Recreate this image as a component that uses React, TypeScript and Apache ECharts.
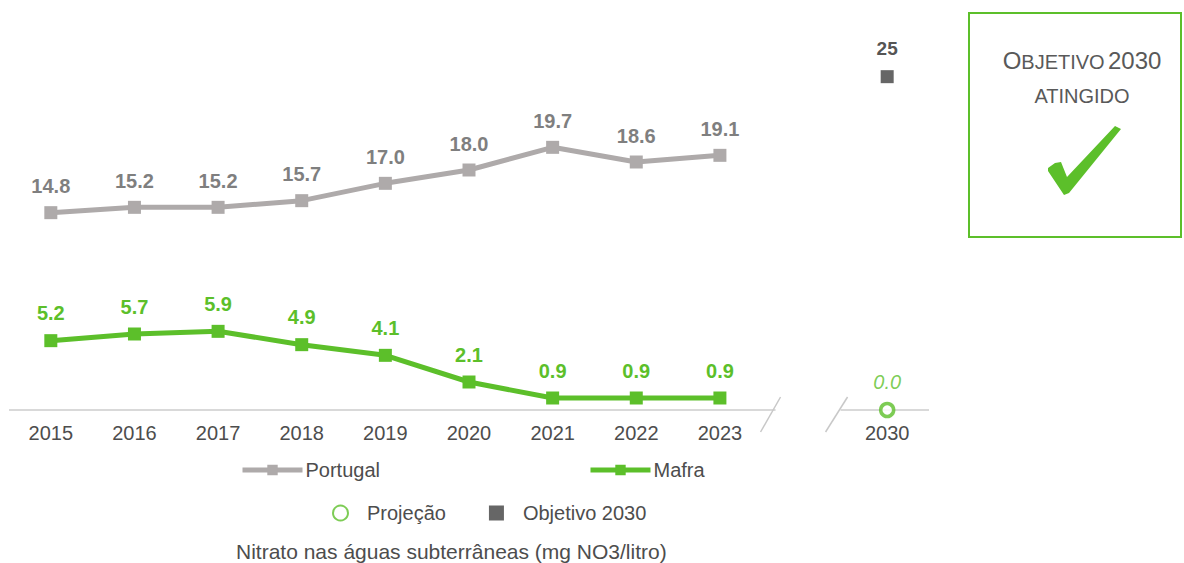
import React, { useEffect, useRef } from "react";
import * as echarts from "echarts";

const categories = ["2015", "2016", "2017", "2018", "2019", "2020", "2021", "2022", "2023", "", "2030"];
const portugal = [14.8, 15.2, 15.2, 15.7, 17.0, 18.0, 19.7, 18.6, 19.1, null, null];
const mafra = [5.2, 5.7, 5.9, 4.9, 4.1, 2.1, 0.9, 0.9, 0.9, null, null];
const projectionYear = "2030";
const projectionValue = 0.0;
const targetYear = "2030";
const targetValue = 25;

const GREEN = "#5cbf2a";
const GRAY_LINE = "#aeaaaa";
const GRAY_LABEL = "#7f7f7f";
const TEXT = "#4d4d4d";
const FONT = "'Liberation Sans', Arial, sans-serif";

export default function App() {
  const ref = useRef<HTMLDivElement>(null);
  useEffect(() => {
    if (!ref.current) return;
    const chart = echarts.init(ref.current, undefined, { renderer: "svg" });
    chart.setOption({
      animation: false,
      textStyle: { fontFamily: FONT },
      grid: { left: 9, right: 255, top: 10, bottom: 153 },
      title: {
        text: "Nitrato nas águas subterrâneas (mg NO3/litro)",
        left: 236,
        top: 541,
        padding: 0,
        textStyle: { fontSize: 21, fontWeight: "normal", color: TEXT, fontFamily: FONT },
      },
      legend: [
        {
          data: ["Portugal", "Mafra"],
          left: 240,
          top: 460,
          itemWidth: 60,
          itemHeight: 13,
          itemGap: 208,
          padding: 0,
          lineStyle: { width: 5 },
          textStyle: { fontSize: 20, color: TEXT, fontFamily: FONT, padding: [0, 0, 0, -2] },
        },
        {
          data: ["Projeção", "Objetivo 2030"],
          left: 332,
          top: 503,
          itemWidth: 15,
          itemHeight: 15,
          itemGap: 43,
          padding: 0,
          textStyle: { fontSize: 20, color: TEXT, fontFamily: FONT, padding: [0, 0, 0, 14] },
        },
      ],
      xAxis: {
        type: "category",
        data: categories,
        boundaryGap: true,
        axisLine: { show: false },
        axisTick: { show: false },
        axisLabel: { fontSize: 20, color: TEXT, margin: 13, fontFamily: FONT, interval: 0 },
      },
      yAxis: { type: "value", min: 0, max: 30, show: false, splitLine: { show: false } },
      series: [
        {
          name: "Portugal",
          type: "line",
          data: portugal,
          symbol: "rect",
          symbolSize: 13,
          lineStyle: { width: 5, color: GRAY_LINE },
          itemStyle: { color: GRAY_LINE },
          label: {
            show: true,
            position: "top",
            distance: 10,
            fontSize: 20,
            fontWeight: "bold",
            color: GRAY_LABEL,
            fontFamily: FONT,
            formatter: (p: any) => Number(p.value).toFixed(1),
          },
        },
        {
          name: "Mafra",
          type: "line",
          data: mafra,
          symbol: "rect",
          symbolSize: 13,
          lineStyle: { width: 5, color: GREEN },
          itemStyle: { color: GREEN },
          label: {
            show: true,
            position: "top",
            distance: 11,
            fontSize: 20,
            fontWeight: "bold",
            color: GREEN,
            fontFamily: FONT,
            formatter: (p: any) => Number(p.value).toFixed(1),
          },
        },
        {
          name: "Projeção",
          type: "scatter",
          data: [[projectionYear, projectionValue]],
          symbol: "circle",
          symbolSize: 13,
          itemStyle: { color: "#ffffff", borderColor: GREEN, borderWidth: 3.5 },
          label: {
            show: true,
            position: "top",
            distance: 10,
            fontSize: 20,
            fontStyle: "italic",
            color: GREEN,
            fontFamily: FONT,
            formatter: (p: any) => Number(p.value[1]).toFixed(1),
          },
          z: 5,
        },
        {
          name: "Objetivo 2030",
          type: "scatter",
          data: [[targetYear, targetValue]],
          symbol: "rect",
          symbolSize: 13,
          itemStyle: { color: "#404040" },
          label: {
            show: true,
            position: "top",
            distance: 12,
            fontSize: 19,
            fontWeight: "bold",
            color: "#262626",
            fontFamily: FONT,
            formatter: (p: any) => String(p.value[1]),
          },
        },
      ],
    });

    const x0 = chart.convertToPixel({ xAxisIndex: 0 }, 0) as number;
    const x1 = chart.convertToPixel({ xAxisIndex: 0 }, 1) as number;
    const xb = chart.convertToPixel({ xAxisIndex: 0 }, 9) as number;
    const xl = chart.convertToPixel({ xAxisIndex: 0 }, categories.length - 1) as number;
    const y0 = chart.convertToPixel({ yAxisIndex: 0 }, 0) as number;
    const band = x1 - x0;
    const axisStyle = { stroke: "#d9d9d9", lineWidth: 2 };
    const slashStyle = { stroke: "#c8c8c8", lineWidth: 1.5 };

    chart.setOption({
      graphic: [
        { type: "line", shape: { x1: x0 - band / 2, y1: y0, x2: xb - 28, y2: y0 }, style: axisStyle, z: 0 },
        { type: "line", shape: { x1: xb + 37, y1: y0, x2: xl + band / 2, y2: y0 }, style: axisStyle, z: 0 },
        { type: "line", shape: { x1: xb - 23, y1: y0 - 13, x2: xb - 43, y2: y0 + 22 }, style: slashStyle },
        { type: "line", shape: { x1: xb + 44, y1: y0 - 13, x2: xb + 22, y2: y0 + 22 }, style: slashStyle },
        {
          type: "rect",
          shape: { x: 969, y: 13, width: 212, height: 224 },
          style: { fill: "#ffffff", stroke: GREEN, lineWidth: 2 },
        },
        {
          type: "text",
          x: 1082,
          y: 72,
          style: {
            text: "{b|O}{s|BJETIVO} {b|2030}",
            align: "center",
            verticalAlign: "bottom",
            rich: {
              b: { fontSize: 24, fontFamily: FONT, fill: "#595959", lineHeight: 24, verticalAlign: "bottom" },
              s: { fontSize: 20, fontFamily: FONT, fill: "#595959", lineHeight: 24, verticalAlign: "bottom" },
            },
          },
        },
        {
          type: "text",
          x: 1082,
          y: 106,
          style: {
            text: "ATINGIDO",
            align: "center",
            verticalAlign: "bottom",
            fontSize: 20,
            fontFamily: FONT,
            fill: "#595959",
          },
        },
        {
          type: "polygon",
          shape: {
            points: [
              [1048, 168],
              [1055, 163],
              [1061, 162],
              [1067, 177],
              [1115, 126],
              [1121, 129],
              [1069, 193],
              [1064, 195],
              [1048, 171],
            ],
          },
          style: { fill: GREEN },
        },
      ],
    });

    return () => chart.dispose();
  }, []);
  return <div ref={ref} style={{ width: 1184, height: 563, position: "absolute", left: 0, top: 0 }} />;
}
